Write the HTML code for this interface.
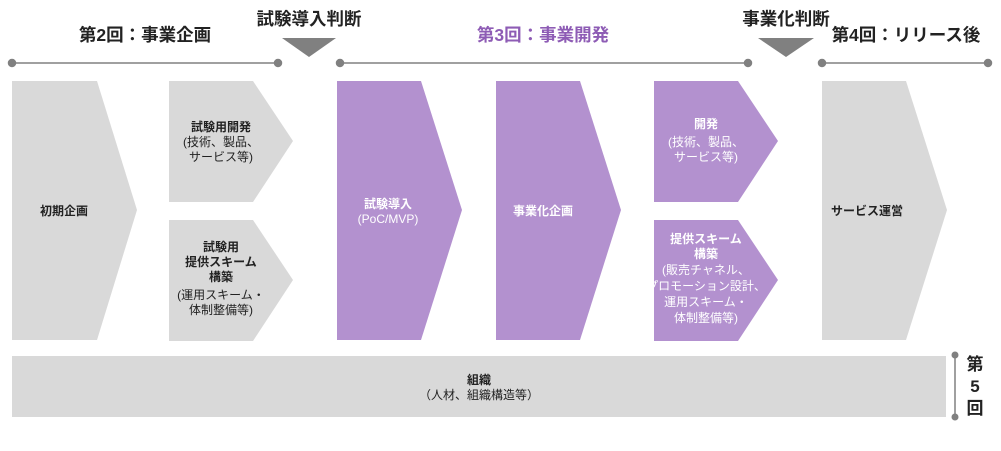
<!DOCTYPE html>
<html><head><meta charset="utf-8"><style>
html,body{margin:0;padding:0;background:#fff;}
svg{display:block;font-family:"Liberation Sans","Noto Sans CJK JP",sans-serif;}
</style></head><body>
<svg width="1001" height="451" viewBox="0 0 1001 451" xmlns="http://www.w3.org/2000/svg">
<g font-size="17.5" font-weight="bold" text-anchor="middle">
<text x="145" y="41" fill="#222">第2回：事業企画</text>
<text x="309" y="25" fill="#222">試験導入判断</text>
<text x="543" y="41" fill="#8e5cb5">第3回：事業開発</text>
<text x="786" y="25" fill="#222">事業化判断</text>
<text x="906" y="41" fill="#222">第4回：リリース後</text>
</g>
<g stroke="#808080" stroke-width="1.5" fill="#808080">
<line x1="12" y1="63" x2="278" y2="63"/><circle cx="12" cy="63" r="3.5"/><circle cx="278" cy="63" r="3.5"/>
<line x1="340" y1="63" x2="748" y2="63"/><circle cx="340" cy="63" r="3.5"/><circle cx="748" cy="63" r="3.5"/>
<line x1="822" y1="63" x2="988" y2="63"/><circle cx="822" cy="63" r="3.5"/><circle cx="988" cy="63" r="3.5"/>
<line x1="955" y1="355" x2="955" y2="417"/><circle cx="955" cy="355" r="3.5" stroke="none"/><circle cx="955" cy="417" r="3.5" stroke="none"/>
</g>
<polygon points="282,38 336,38 309,57" fill="#808080"/>
<polygon points="758,38 814,38 786,57" fill="#808080"/>
<g fill="#d9d9d9">
<polygon points="12,81 97,81 137,210 97,340 12,340"/>
<polygon points="169,81 253,81 293,141 253,202 169,202"/>
<polygon points="169,220 253,220 293,280 253,341 169,341"/>
<polygon points="822,81 906,81 947,210 906,340 822,340"/>
<rect x="12" y="356" width="934" height="61"/>
</g>
<g fill="#b391cf">
<polygon points="337,81 421,81 462,210 421,340 337,340"/>
<polygon points="496,81 580,81 621,210 580,340 496,340"/>
<polygon points="654,81 738,81 778,141 738,202 654,202"/>
<polygon points="654,220 738,220 778,280 738,341 654,341"/>
</g>
<g font-size="12" text-anchor="middle" fill="#222">
<text x="64" y="215" font-weight="bold">初期企画</text>
<text x="221" y="131" font-weight="bold">試験用開発</text>
<text x="221" y="146">(技術、製品、</text>
<text x="221" y="161">サービス等)</text>
<text x="221" y="251" font-weight="bold">試験用</text>
<text x="221" y="266" font-weight="bold">提供スキーム</text>
<text x="221" y="281" font-weight="bold">構築</text>
<text x="221" y="299">(運用スキーム・</text>
<text x="221" y="314">体制整備等)</text>
<text x="867" y="215" font-weight="bold">サービス運営</text>
<text x="479" y="384" font-weight="bold">組織</text>
<text x="479" y="399">（人材、組織構造等）</text>
</g>
<g font-size="12" text-anchor="middle" fill="#fff">
<text x="388" y="208" font-weight="bold">試験導入</text>
<text x="388" y="223">(PoC/MVP)</text>
<text x="543" y="215" font-weight="bold">事業化企画</text>
<text x="706" y="128" font-weight="bold">開発</text>
<text x="706" y="146">(技術、製品、</text>
<text x="706" y="161">サービス等)</text>
<text x="706" y="243" font-weight="bold">提供スキーム</text>
<text x="706" y="258" font-weight="bold">構築</text>
<text x="706" y="274">(販売チャネル、</text>
<text x="706" y="290">プロモーション設計、</text>
<text x="706" y="306">運用スキーム・</text>
<text x="706" y="322">体制整備等)</text>
</g>
<g font-size="17" font-weight="bold" text-anchor="middle" fill="#222">
<text x="975" y="370">第</text>
<text x="975" y="392">5</text>
<text x="975" y="414">回</text>
</g>
</svg>
</body></html>
